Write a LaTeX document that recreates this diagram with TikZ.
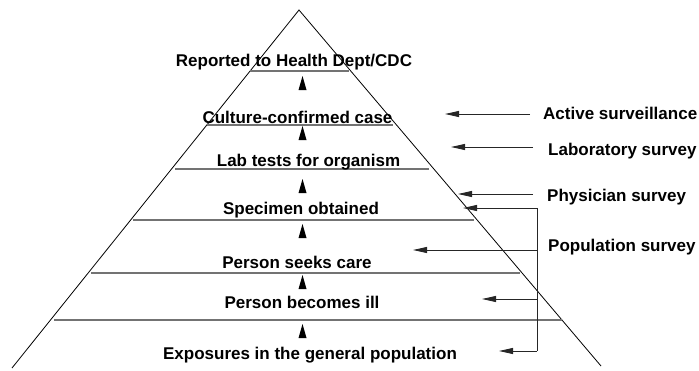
\documentclass[tikz,border=0pt]{standalone}
\usepackage{fontspec}
\setmainfont{Liberation Sans}
\usetikzlibrary{arrows.meta,calc}
\begin{document}
\begin{tikzpicture}[x=1pt,y=-1pt,
  lvl/.style={font=\fontsize{17}{20}\selectfont\bfseries, anchor=base, inner sep=0pt},
  lbl/.style={font=\fontsize{17}{20}\selectfont\bfseries, anchor=base west, inner sep=0pt},
  edge/.style={line width=0.8pt, black},
  tier/.style={line width=1.3pt, black!55},
  surv/.style={-{Triangle[length=14pt,width=6pt]}, line width=0.9pt, black!85},
  brk/.style={line width=0.9pt, black!85}]
\useasboundingbox (0,0) rectangle (699,370);
% pyramid
\coordinate (apex) at (299,10);
\coordinate (bl) at (12,368);
\coordinate (br) at (601,366);
\draw[edge] (bl) -- (apex) -- (br);
% tiers
\draw[tier] (250,71) -- (349,71);
\draw[tier] (207,125) -- (393,125);
\draw[tier] (175,169) -- (429,169);
\draw[tier] (133,220) -- (474,220);
\draw[tier] (91,273) -- (520,273);
\draw[tier] (54,320) -- (562,320);
% level texts
\node[lvl] (l1) at (294,66) {Reported to Health Dept/CDC};
\node[lvl] (l2) at (297.5,123) {Culture-confirmed case};
\node[lvl] (l3) at (308.5,166) {Lab tests for organism};
\node[lvl] (l4) at (301,214) {Specimen obtained};
\node[lvl] (l5) at (297,268) {Person seeks care};
\node[lvl] (l6) at (302,308) {Person becomes ill};
\node[lvl] (l7) at (310,359) {Exposures in the general population};
% upward arrowheads
\foreach \t/\b [count=\i] in {76/90,126/140,179/193,224/238,275/289,324/338}{
  \coordinate (ua\i) at (302.5,\b);
  \coordinate (ub\i) at (302.5,\t);
  \fill (ub\i) -- ($(ua\i)+(-4,0)$) -- ($(ua\i)+(4,0)$) -- cycle;
}
% survey labels
\node[lbl] (s1) at (543,119) {Active surveillance};
\node[lbl] (s2) at (548,155) {Laboratory survey};
\node[lbl] (s3) at (547,201) {Physician survey};
\node[lbl] (s4) at (548,251) {Population survey};
% survey arrows
\coordinate (a1s) at (530,114); \coordinate (a1e) at (445,114);
\coordinate (a2s) at (533,147); \coordinate (a2e) at (451,147);
\coordinate (a3s) at (533,194); \coordinate (a3e) at (458,194);
\draw[surv] (a1s) -- (a1e);
\draw[surv] (a2s) -- (a2e);
\draw[surv] (a3s) -- (a3e);
% population bracket
\coordinate (bt) at (537,208);
\coordinate (bb) at (537,351);
\coordinate (bm1) at (537,250);
\coordinate (bm2) at (537,299);
\draw[brk] (bt) -- (bb);
\draw[surv] (bt) -- (463,208);
\draw[surv] (bm1) -- (413,250);
\draw[surv] (bm2) -- (482,299);
\draw[surv] (bb) -- (499,351);
\end{tikzpicture}
\end{document}
